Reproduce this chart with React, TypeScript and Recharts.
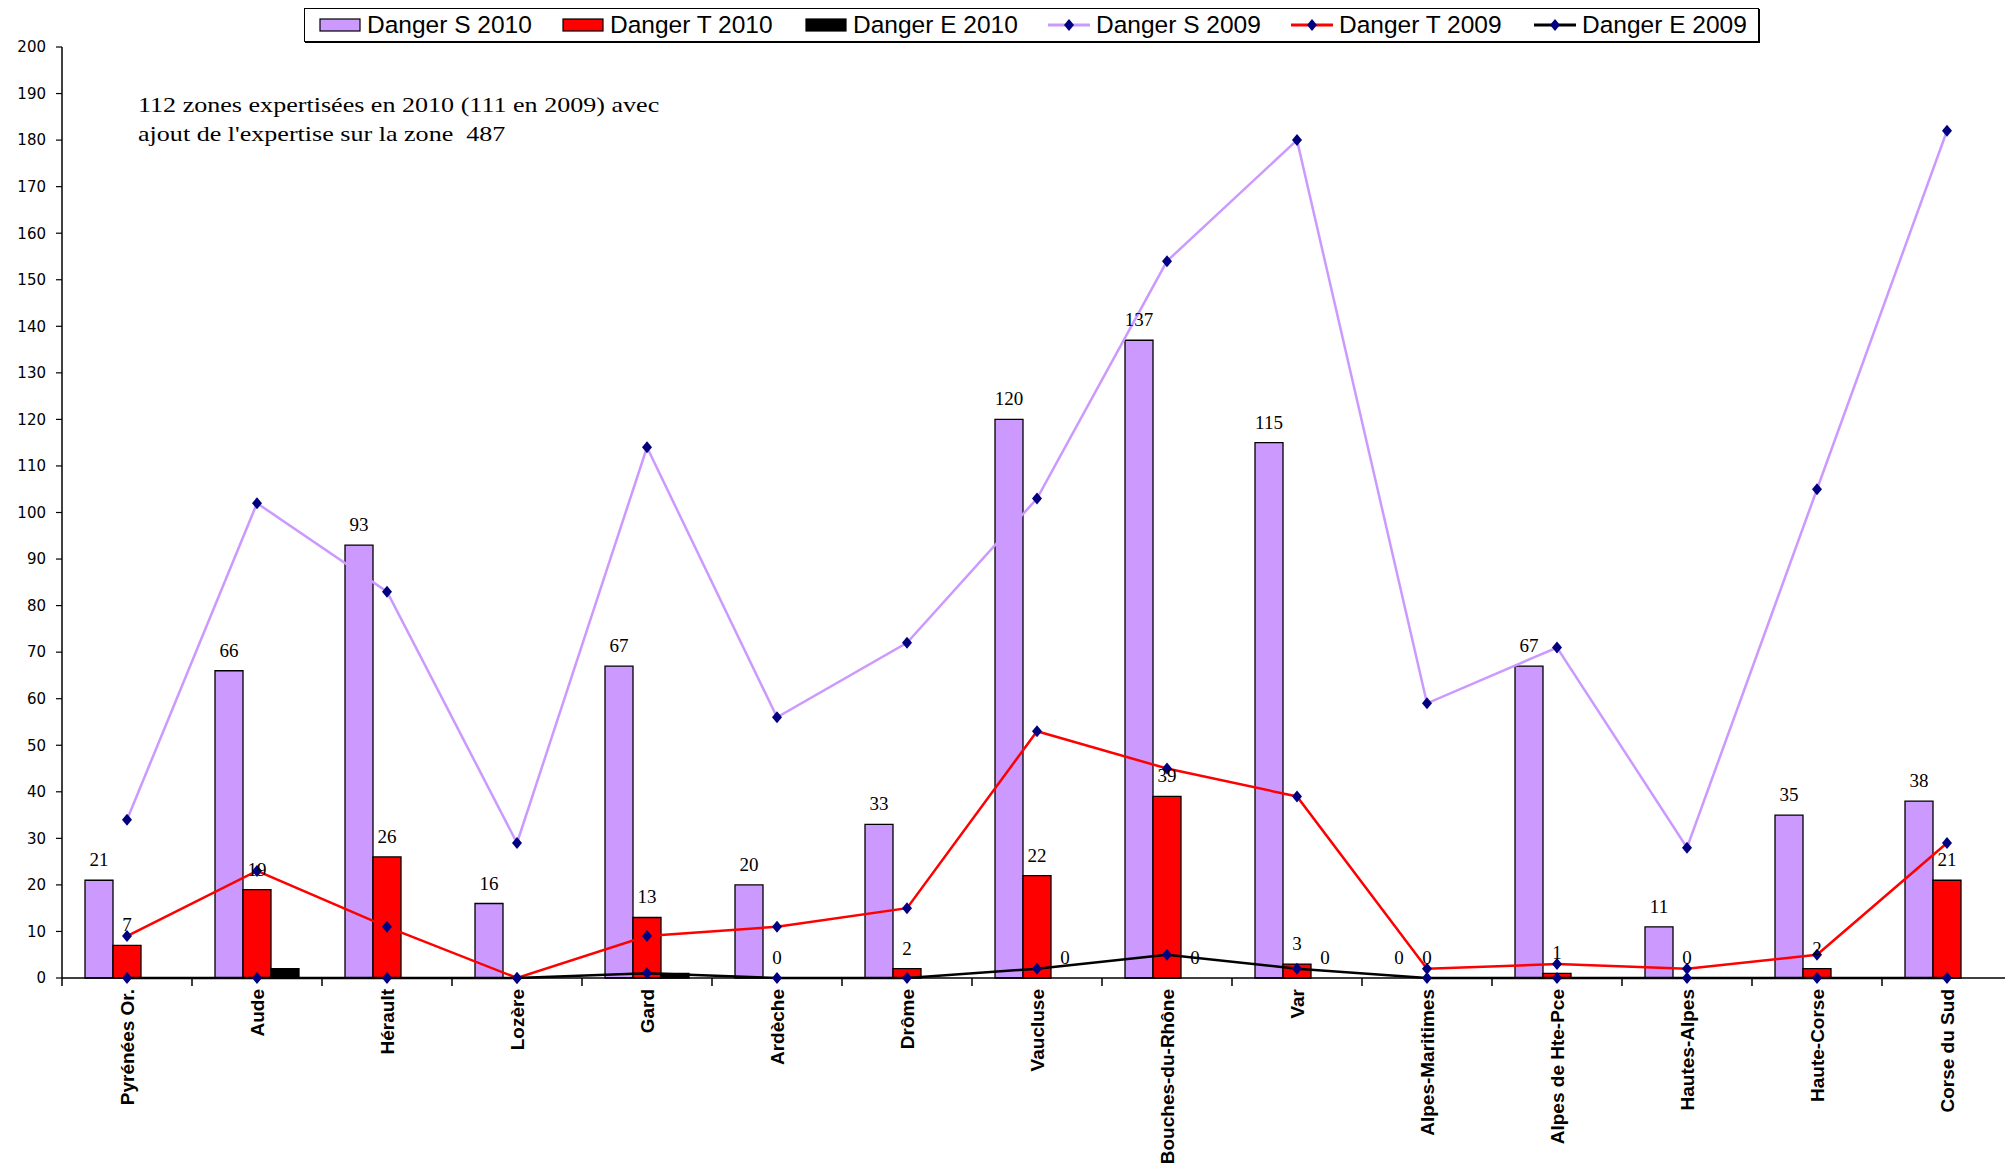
import React from 'react';
import {
  ComposedChart,
  Bar,
  Line,
  XAxis,
  YAxis,
  Legend,
  LabelList,
} from 'recharts';

// departments along the x axis
const categories = [
  'Pyrénées Or.',
  'Aude',
  'Hérault',
  'Lozère',
  'Gard',
  'Ardèche',
  'Drôme',
  'Vaucluse',
  'Bouches-du-Rhône',
  'Var',
  'Alpes-Maritimes',
  'Alpes de Hte-Pce',
  'Hautes-Alpes',
  'Haute-Corse',
  'Corse du Sud',
];

// 2010 bars
const dangerS2010 = [21, 66, 93, 16, 67, 20, 33, 120, 137, 115, 0, 67, 11, 35, 38];
const dangerT2010 = [7, 19, 26, 0, 13, 0, 2, 22, 39, 3, 0, 1, 0, 2, 21];
const dangerE2010 = [0, 2, 0, 0, 1, 0, 0, 0, 0, 0, 0, 0, 0, 0, 0];

// 2009 lines
const dangerS2009 = [34, 102, 83, 29, 114, 56, 72, 103, 154, 180, 59, 71, 28, 105, 182];
const dangerT2009 = [9, 23, 11, 0, 9, 11, 15, 53, 45, 39, 2, 3, 2, 5, 29];
const dangerE2009 = [0, 0, 0, 0, 1, 0, 0, 2, 5, 2, 0, 0, 0, 0, 0];

// which bars carry a value label in the original
const showS = [1, 1, 1, 1, 1, 1, 1, 1, 1, 1, 1, 1, 1, 1, 1];
const showT = [1, 1, 1, 0, 1, 1, 1, 1, 1, 1, 1, 1, 1, 1, 1];
const showE = [0, 0, 0, 0, 0, 0, 0, 1, 1, 1, 0, 0, 0, 0, 0];

const yTicks = [0, 10, 20, 30, 40, 50, 60, 70, 80, 90, 100, 110, 120, 130, 140, 150, 160, 170, 180, 190, 200];

const annotation = [
  "112 zones expertisées en 2010 (111 en 2009) avec",
  "ajout de l'expertise sur la zone  487",
];

const legendItems = [
  { label: 'Danger S 2010', kind: 'bar', color: '#CC99FF' },
  { label: 'Danger T 2010', kind: 'bar', color: '#FF0000' },
  { label: 'Danger E 2010', kind: 'bar', color: '#000000' },
  { label: 'Danger S 2009', kind: 'line', color: '#CC99FF' },
  { label: 'Danger T 2009', kind: 'line', color: '#FF0000' },
  { label: 'Danger E 2009', kind: 'line', color: '#000000' },
];

const data = categories.map((name, i) => ({
  name,
  s2010: dangerS2010[i],
  t2010: dangerT2010[i],
  e2010: dangerE2010[i],
  s2009: dangerS2009[i],
  t2009: dangerT2009[i],
  e2009: dangerE2009[i],
  sLabel: showS[i] ? String(dangerS2010[i]) : null,
  tLabel: showT[i] ? String(dangerT2010[i]) : null,
  eLabel: showE[i] ? String(dangerE2010[i]) : null,
}));

const BAND = 130;
const BAR = 28;
const NAVY = '#000080';
const SERIF = '"Liberation Serif", "Times New Roman", serif';
const SANS = '"Liberation Sans", Arial, sans-serif';

const Diamond = (props: any) => {
  const { cx, cy, index } = props;
  if (cx == null || cy == null) return <g key={index} />;
  return (
    <polygon
      key={index}
      points={`${cx},${cy - 6} ${cx + 5},${cy} ${cx},${cy + 6} ${cx - 5},${cy}`}
      fill={NAVY}
    />
  );
};

const CategoryTick = (props: any) => {
  const { x, y, payload } = props;
  return (
    <g>
      <line x1={x - BAND / 2} y1={y} x2={x - BAND / 2} y2={y + 8} stroke="#000" strokeWidth={1.5} />
      <g transform={`translate(${x},${y})`}>
        <text
          transform="rotate(-90)"
          x={-11}
          y={0}
          dy="0.36em"
          textAnchor="end"
          fontFamily={SANS}
          fontWeight="bold"
          fontSize={19}
          fill="#000"
        >
          {payload.value}
        </text>
      </g>
    </g>
  );
};

// value label above a bar; drawn from an invisible line so zero bars get theirs too
const makeBarValue = (shift: number) => (props: any) => {
  const { value } = props;
  const px = props.viewBox?.x ?? props.x;
  const py = props.viewBox?.y ?? props.y;
  if (value == null || value === '' || px == null || py == null) return null;
  return (
    <text
      x={px + shift}
      y={py - 14}
      textAnchor="middle"
      fontFamily={SERIF}
      fontSize={19}
      fill="#000"
    >
      {value}
    </text>
  );
};

const LegendBox = () => (
  <div
    style={{
      boxSizing: 'border-box',
      width: 1455,
      height: 34,
      border: '1.5px solid #000',
      boxShadow: '1px 1px 0 #000',
      background: '#fff',
      position: 'relative',
    }}
  >
    {legendItems.map((item, i) => (
      <div
        key={item.label}
        style={{
          position: 'absolute',
          left: 14 + i * 243,
          top: 0,
          height: 31,
          display: 'flex',
          alignItems: 'center',
        }}
      >
        <svg width={42} height={16} style={{ display: 'block' }}>
          {item.kind === 'bar' ? (
            <rect x={1} y={2} width={40} height={12} fill={item.color} stroke="#000" strokeWidth={1.2} />
          ) : (
            <g>
              <line x1={0} y1={8} x2={42} y2={8} stroke={item.color} strokeWidth={3} />
              <polygon points="21,2 26,8 21,14 16,8" fill={NAVY} />
            </g>
          )}
        </svg>
        <span
          style={{
            marginLeft: 6,
            fontFamily: SANS,
            fontSize: 24.5,
            color: '#000',
            whiteSpace: 'nowrap',
            lineHeight: '31px',
          }}
        >
          {item.label}
        </span>
      </div>
    ))}
  </div>
);

export default function App() {
  return (
    <div
      style={{
        position: 'absolute',
        left: 0,
        top: 0,
        width: 2005,
        height: 1167,
        overflow: 'hidden',
        background: '#fff',
      }}
    >
      <ComposedChart
        width={2015}
        height={1167}
        data={data}
        margin={{ top: 47, right: 3, bottom: 0, left: 0 }}
        barGap={0}
        barSize={BAR}
      >
        <XAxis
          dataKey="name"
          height={189}
          interval={0}
          tickLine={false}
          tickSize={0}
          tickMargin={0}
          tick={<CategoryTick />}
          axisLine={{ stroke: '#000', strokeWidth: 1.5 }}
        />
        <YAxis
          domain={[0, 200]}
          ticks={yTicks}
          interval={0}
          width={62}
          tickSize={6}
          tickMargin={10}
          axisLine={{ stroke: '#000', strokeWidth: 1.5 }}
          tickLine={{ stroke: '#000', strokeWidth: 1.2 }}
          tick={{ fontFamily: '"DejaVu Sans", Verdana, sans-serif', fontSize: 15, fill: '#000' }}
        />
        <Legend
          layout="horizontal"
          verticalAlign="middle"
          align="center"
          wrapperStyle={{ top: 8, left: 304, width: 1455, height: 34 }}
          content={() => <LegendBox />}
        />
        <Bar dataKey="s2010" fill="#CC99FF" stroke="#000" strokeWidth={1.3} isAnimationActive={false} />
        <Bar dataKey="t2010" fill="#FF0000" stroke="#000" strokeWidth={1.3} isAnimationActive={false} />
        <Bar dataKey="e2010" fill="#000000" stroke="#000" strokeWidth={1.3} isAnimationActive={false} />
        <Line dataKey="s2010" stroke="none" dot={false} activeDot={false} legendType="none" isAnimationActive={false}>
          <LabelList dataKey="sLabel" content={makeBarValue(-BAR)} />
        </Line>
        <Line dataKey="t2010" stroke="none" dot={false} activeDot={false} legendType="none" isAnimationActive={false}>
          <LabelList dataKey="tLabel" content={makeBarValue(0)} />
        </Line>
        <Line dataKey="e2010" stroke="none" dot={false} activeDot={false} legendType="none" isAnimationActive={false}>
          <LabelList dataKey="eLabel" content={makeBarValue(BAR)} />
        </Line>
        <Line
          dataKey="s2009"
          type="linear"
          stroke="#CC99FF"
          strokeWidth={2.5}
          dot={Diamond}
          activeDot={false}
          isAnimationActive={false}
        />
        <Line
          dataKey="t2009"
          type="linear"
          stroke="#FF0000"
          strokeWidth={2.5}
          dot={Diamond}
          activeDot={false}
          isAnimationActive={false}
        />
        <Line
          dataKey="e2009"
          type="linear"
          stroke="#000000"
          strokeWidth={2.5}
          dot={Diamond}
          activeDot={false}
          isAnimationActive={false}
        />
      </ComposedChart>
      <div
        style={{
          position: 'absolute',
          left: 138,
          top: 90,
          fontFamily: SERIF,
          fontSize: 22,
          lineHeight: '29px',
          color: '#000',
          whiteSpace: 'pre',
          transform: 'scaleX(1.185)',
          transformOrigin: 'left top',
        }}
      >
        {annotation.map((line) => (
          <div key={line}>{line}</div>
        ))}
      </div>
    </div>
  );
}
